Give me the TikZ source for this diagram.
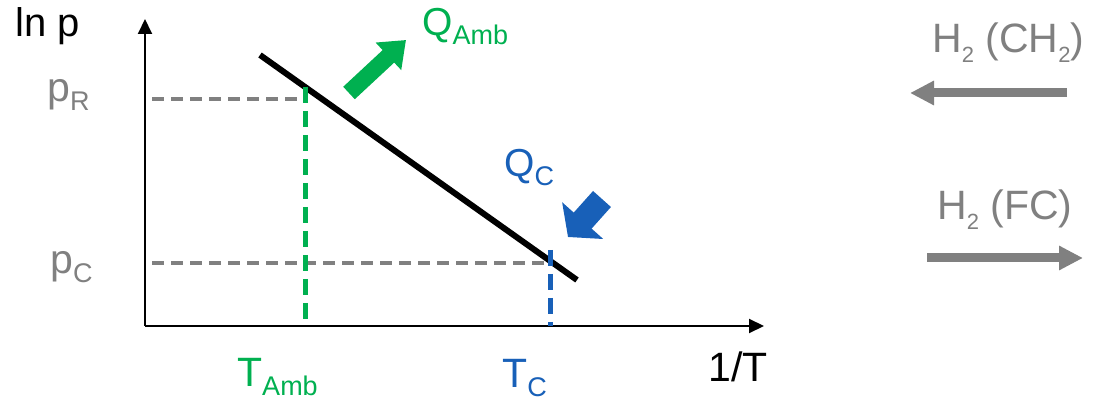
\documentclass[tikz,border=0pt]{standalone}
\usepackage{fontspec}
\setmainfont{Liberation Sans}
\usetikzlibrary{arrows.meta}
\definecolor{ambgreen}{RGB}{0,176,80}
\definecolor{coldblue}{RGB}{24,96,184}
\definecolor{labelgray}{RGB}{128,128,128}
\newcommand\lowsub[1]{\raisebox{-9pt}{\fontsize{27}{27}\selectfont #1}}
\newcommand\smallsub[1]{\raisebox{-10pt}{\fontsize{22}{22}\selectfont #1}}

\begin{document}
\begin{tikzpicture}[x=1pt,y=-1pt,
    lbl/.style={inner sep=0pt,anchor=base west,font=\fontsize{41}{41}\selectfont},
    qlbl/.style={lbl,font=\fontsize{39}{39}\selectfont},
    hlbl/.style={lbl,labelgray,font=\fontsize{41}{41}\selectfont},
    axis/.style={line width=2pt,-{Triangle[length=15pt,width=14pt]}},
    guide/.style={line width=4pt,dash pattern=on 12pt off 7pt},
    flow/.style={line width=9pt,labelgray,-{Triangle[length=24pt,width=23pt]}}]
\useasboundingbox (0,0) rectangle (1095,403);

% axes
\coordinate (O) at (145,326);
\coordinate (ytop) at (145,19);
\coordinate (xend) at (764,326);
\draw[axis] (O) -- (ytop);
\draw[axis] (O) -- (xend);

% vapour pressure line
\coordinate (lineA) at (260,55);
\coordinate (lineB) at (577,280);
\draw[line width=6pt] (lineA) -- (lineB);

% guide lines
\coordinate (pRleft) at (152,99);
\coordinate (pRcut) at (305,99);
\coordinate (pCleft) at (152,263);
\coordinate (pCcut) at (550,263);
\coordinate (TAtop) at (305,87);
\coordinate (TAbot) at (305,326);
\coordinate (TCtop) at (550,250);
\coordinate (TCbot) at (550,326);
\draw[guide,labelgray] (pRleft) -- (pRcut);
\draw[guide,labelgray] (pCleft) -- (pCcut);
\draw[guide,ambgreen,line width=5pt,dash pattern=on 16pt off 8pt] (TAtop) -- (TAbot);
\draw[guide,coldblue,line width=5pt,dash pattern=on 16pt off 8pt] (TCtop) -- (TCbot);

% axis labels
\node[lbl,font=\fontsize{40}{40}\selectfont] (lnp) at (15,37) {ln p};
\node[lbl] (oneT) at (708,381) {1/T};
\node[lbl,labelgray] (pR) at (47,102) {p\lowsub{R}};
\node[lbl,labelgray] (pC) at (50,274) {p\lowsub{C}};
\node[lbl,ambgreen] (TAmb) at (237,386) {T\lowsub{Amb}};
\node[lbl,coldblue] (TC) at (502,387) {T\lowsub{C}};

% heat flows
\coordinate (gtail) at (349,93);
\coordinate (gtip) at (406,40);
\draw[ambgreen,line width=17pt,-{Triangle[length=24pt,width=36pt]}] (gtail) -- (gtip);
\node[qlbl,ambgreen] (QAmb) at (422,36) {Q\lowsub{Amb}};
\coordinate (btail) at (602,199);
\coordinate (btip) at (568,237);
\draw[coldblue,line width=24pt,-{Triangle[length=22pt,width=54pt]}] (btail) -- (btip);
\node[qlbl,coldblue] (QC) at (504,177) {Q\lowsub{C}};

% hydrogen flows
\node[hlbl] (absorb) at (932,53) {H\smallsub{2} (CH\smallsub{2})};
\coordinate (absR) at (1067,93);
\coordinate (absL) at (910,93);
\draw[flow] (absR) -- (absL);
\node[hlbl] (desorb) at (937,220) {H\smallsub{2} (FC)};
\coordinate (desL) at (927,258);
\coordinate (desR) at (1083,258);
\draw[flow] (desL) -- (desR);

\end{tikzpicture}
\end{document}
